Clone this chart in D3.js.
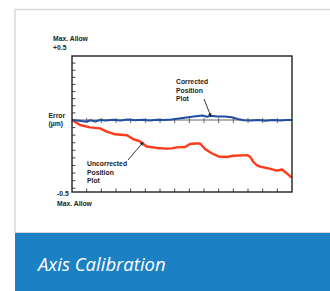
<!DOCTYPE html>
<html><head><meta charset="utf-8">
<script src="https://cdn.jsdelivr.net/npm/d3@7"></script>
<style>
html,body{margin:0;padding:0;background:#fff;}
svg{display:block;}
</style></head>
<body>
<svg id="c" width="330" height="291"></svg>
<script>
// ---- data ----
const title = "Axis Calibration";
const yTopLabel = ["Max. Allow", "+0.5"];
const yBottomLabel = ["-0.5", "Max. Allow"];
const yAxisLabel = ["Error", "(\u00b5m)"];
const correctedLabel = ["Corrected", "Position", "Plot"];
const uncorrectedLabel = ["Uncorrected", "Position", "Plot"];

const uncorrectedX = [0, 0.55, 1.23, 1.91, 2.37, 2.93, 3.75, 4.16, 4.64, 5.09, 5.77, 6.45, 6.80, 7.14, 7.70, 8.05, 8.39, 8.73, 9.07, 9.52, 9.98, 10.55, 11.0, 11.93, 12.14, 12.36, 12.59, 12.82, 13.27, 13.96, 14.18, 14.32, 14.59, 14.98];
const uncorrectedY = [0, -0.035, -0.051, -0.058, -0.081, -0.099, -0.106, -0.132, -0.149, -0.184, -0.194, -0.199, -0.197, -0.19, -0.188, -0.167, -0.163, -0.163, -0.201, -0.231, -0.253, -0.257, -0.248, -0.244, -0.255, -0.29, -0.313, -0.324, -0.333, -0.351, -0.347, -0.344, -0.366, -0.40];

const correctedX = [0, 0.5, 1.0, 1.25, 1.6, 1.9, 2.3, 2.8, 3.3, 3.8, 4.3, 4.8, 5.3, 5.8, 6.3, 6.8, 7.3, 7.8, 8.3, 8.9, 9.2, 9.45, 9.9, 10.4, 10.9, 11.3, 11.7, 12.2, 12.7, 13.2, 13.7, 14.2, 14.6, 15];
const correctedY = [0, -0.005, -0.012, -0.002, -0.01, 0.0, -0.004, 0.002, -0.003, 0.003, -0.002, 0.002, -0.003, 0.002, 0.0, 0.004, 0.012, 0.02, 0.028, 0.035, 0.026, 0.033, 0.027, 0.027, 0.022, 0.008, -0.002, -0.004, 0.0, -0.005, 0.0, -0.003, 0.0, 0];

const xTickValues = [1,2,3,4,5,6,7,8,9,10,11,12,13,14];

// ---- layout ----
const svg = d3.select("#c");
const L = 72, R = 292, T = 56, B = 192, Z = 120;
const x = d3.scaleLinear().domain([0, 15]).range([L, R]);
const y = d3.scaleLinear().domain([-0.5, 0, 0.5]).range([B, Z, T]);

// card border
svg.append("path").attr("d", "M15,233 V9.5 H330").attr("fill", "none").attr("stroke", "#d9d9d9").attr("stroke-width", 1.5);

// banner
svg.append("rect").attr("x", 15).attr("y", 233).attr("width", 315).attr("height", 58).attr("fill", "#1c80c4");
svg.append("line").attr("x1", 15).attr("x2", 330).attr("y1", 232.5).attr("y2", 232.5).attr("stroke", "#cfd8de").attr("stroke-width", 1);
svg.append("text").attr("x", 38).attr("y", 271).text(title)
  .attr("font-family", "'Open Sans', sans-serif").attr("font-style", "italic").attr("font-weight", 400)
  .attr("font-size", 18.5).attr("fill", "#fff");

const g = svg.append("g");
const font = "'Liberation Sans', Arial, sans-serif";

// y ticks (left, inside)
const upper = d3.range(1, 9).map(i => i * 0.5 / 9);
const lower = d3.range(1, 10).map(i => -i * 0.5 / 9.5);
g.selectAll("line.yt").data(upper.concat(lower)).join("line")
  .attr("x1", L).attr("x2", L + 3.5).attr("y1", d => y(d)).attr("y2", d => y(d))
  .attr("stroke", "#333").attr("stroke-width", 0.9);

// x ticks bottom & zero line
g.selectAll("line.xb").data(xTickValues).join("line")
  .attr("x1", d => x(d)).attr("x2", d => x(d)).attr("y1", B).attr("y2", B - 3.5)
  .attr("stroke", "#333").attr("stroke-width", 0.9);
g.append("line").attr("x1", L).attr("x2", R).attr("y1", y(0)).attr("y2", y(0)).attr("stroke", "#666").attr("stroke-width", 1);
g.selectAll("line.xz").data(xTickValues).join("line")
  .attr("x1", d => x(d)).attr("x2", d => x(d)).attr("y1", y(0) - 2).attr("y2", y(0) + 3)
  .attr("stroke", "#555").attr("stroke-width", 0.9);

// lines
const line = d3.line().x(d => x(d[0])).y(d => y(d[1])).curve(d3.curveLinear);
g.append("path").datum(uncorrectedX.map((v, i) => [v, uncorrectedY[i]]))
  .attr("d", line).attr("fill", "none").attr("stroke", "#ff3b1c").attr("stroke-width", 2.4).attr("stroke-linejoin", "round");
g.append("path").datum(correctedX.map((v, i) => [v, correctedY[i]]))
  .attr("d", line).attr("fill", "none").attr("stroke", "#1f4ea3").attr("stroke-width", 2).attr("stroke-linejoin", "round");

// box
g.append("rect").attr("x", L).attr("y", T).attr("width", R - L).attr("height", B - T)
  .attr("fill", "none").attr("stroke", "#222").attr("stroke-width", 1.4);

// labels
function lines(arr, x0, y0, lh, anchor) {
  const t = svg.append("text").attr("font-family", font).attr("font-weight", "bold").attr("font-size", 6.8).attr("fill", "#222").attr("text-anchor", anchor || "start");
  arr.forEach((s, i) => t.append("tspan").attr("x", x0).attr("y", y0 + i * lh).text(s));
}
lines(yTopLabel, 53, 41, 8.5);
lines(yAxisLabel, 48.5, 117.5, 8.5);
lines(yBottomLabel, 57, 196, 9.5);
lines(correctedLabel, 176, 84, 8.5);
lines(uncorrectedLabel, 87, 166, 8.5);

// arrows
svg.append("defs").append("marker").attr("id", "ah").attr("viewBox", "0 0 10 10").attr("refX", 9).attr("refY", 5)
  .attr("markerWidth", 4).attr("markerHeight", 4).attr("orient", "auto")
  .append("path").attr("d", "M0,0 L10,5 L0,10 z").attr("fill", "#222");
svg.append("line").attr("x1", 204).attr("y1", 99).attr("x2", x(9.47)).attr("y2", y(0.028))
  .attr("stroke", "#222").attr("stroke-width", 0.9).attr("marker-end", "url(#ah)");
svg.append("line").attr("x1", 128).attr("y1", 160).attr("x2", x(4.85)).attr("y2", y(-0.155))
  .attr("stroke", "#222").attr("stroke-width", 0.9).attr("marker-end", "url(#ah)");
</script>
</body></html>
